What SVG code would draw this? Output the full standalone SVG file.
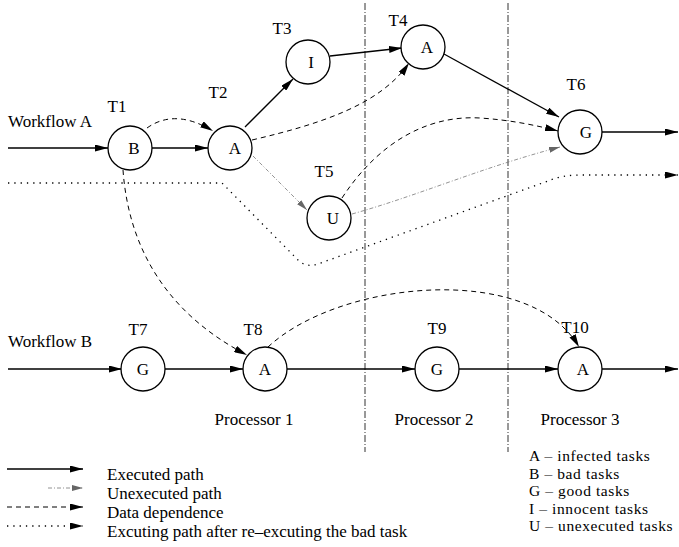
<svg xmlns="http://www.w3.org/2000/svg" width="679" height="547" viewBox="0 0 679 547">
  <defs>
    <marker id="arr" viewBox="0 0 13 7" refX="13" refY="3.5" markerWidth="13" markerHeight="7" markerUnits="userSpaceOnUse" orient="auto">
      <path d="M0,0 L13,3.5 L0,7 z" fill="#000"/>
    </marker>
    <marker id="arrGray" viewBox="0 0 13 7" refX="13" refY="3.5" markerWidth="11" markerHeight="6" markerUnits="userSpaceOnUse" orient="auto">
      <path d="M0,0 L13,3.5 L0,7 z" fill="#666"/>
    </marker>
  </defs>
  <style>
    text { font-family: 'Liberation Serif', 'DejaVu Serif', 'Times New Roman', serif; font-size: 17px; fill: #000; }
    .mid { text-anchor: middle; }
    .key { font-size: 15.5px; letter-spacing: 0.6px; }
    .node circle { fill: #fff; stroke: #000; stroke-width: 1.3; }
    .exec { fill: none; stroke: #000; stroke-width: 1.3; }
    .dep { fill: none; stroke: #000; stroke-width: 1; stroke-dasharray: 5 4; }
    .unexec { fill: none; stroke: #777; stroke-width: 0.8; stroke-dasharray: 4 2 1 2; }
    .redo { fill: none; stroke: #000; stroke-width: 1.3; stroke-dasharray: 1.3 5; }
    .sep { fill: none; stroke: #333; stroke-width: 1; stroke-dasharray: 7 2 1 2; }
  </style>
  <rect width="679" height="547" fill="#fff"/>

  <!-- processor separators -->
  <g id="separators">
    <line class="sep" x1="365" y1="3" x2="365" y2="452"/>
    <line class="sep" x1="508" y1="3" x2="508" y2="452"/>
  </g>

  <!-- connectors -->
  <g id="connectors">
    <!-- workflow A, executed -->
    <line class="exec" x1="8" y1="148" x2="108" y2="148" marker-end="url(#arr)"/>
    <line class="exec" x1="152" y1="148" x2="208" y2="148" marker-end="url(#arr)"/>
    <line class="exec" x1="245" y1="127" x2="293" y2="79" marker-end="url(#arr)"/>
    <line class="exec" x1="330" y1="56" x2="402" y2="48" marker-end="url(#arr)"/>
    <line class="exec" x1="444" y1="54" x2="559" y2="117" marker-end="url(#arr)"/>
    <line class="exec" x1="602" y1="132" x2="678" y2="132" marker-end="url(#arr)"/>
    <!-- workflow A, data dependence -->
    <path class="dep" d="M147,128 Q175,108 213,131" marker-end="url(#arr)"/>
    <path class="dep" d="M252,140 C320,124 380,105 409,63" marker-end="url(#arr)"/>
    <path class="dep" d="M342,198 C380,140 430,115 480,118 C510,120 535,125 558,131" marker-end="url(#arr)"/>
    <path class="dep" d="M123,170 C128,240 160,310 247,355" marker-end="url(#arr)"/>
    <!-- workflow A, unexecuted -->
    <line class="unexec" x1="253" y1="156" x2="307" y2="210" marker-end="url(#arrGray)"/>
    <path class="unexec" d="M352,214 C420,195 480,168 560,147" marker-end="url(#arrGray)"/>
    <!-- path after re-executing the bad task -->
    <path class="redo" d="M8,183 H222 L298,260 Q306,268 318,264 L548,181 Q562,175 580,175 H678" marker-end="url(#arr)"/>
    <!-- workflow B, executed -->
    <line class="exec" x1="8" y1="369" x2="122" y2="369" marker-end="url(#arr)"/>
    <line class="exec" x1="165" y1="369" x2="243" y2="369" marker-end="url(#arr)"/>
    <line class="exec" x1="287" y1="369" x2="415" y2="369" marker-end="url(#arr)"/>
    <line class="exec" x1="459" y1="369" x2="558" y2="369" marker-end="url(#arr)"/>
    <line class="exec" x1="602" y1="369" x2="678" y2="369" marker-end="url(#arr)"/>
    <!-- workflow B, data dependence -->
    <path class="dep" d="M268,347 C340,280 530,262 579,347" marker-end="url(#arr)"/>
  </g>

  <!-- nodes -->
  <g id="T1" class="node"><circle cx="130" cy="148" r="22"/><text class="mid" x="134" y="154">B</text><text class="mid" x="117" y="112">T1</text></g>
  <g id="T2" class="node"><circle cx="230" cy="148" r="22"/><text class="mid" x="235" y="154">A</text><text class="mid" x="218" y="98">T2</text></g>
  <g id="T3" class="node"><circle cx="308" cy="62" r="22"/><text class="mid" x="311" y="68">I</text><text class="mid" x="282" y="34">T3</text></g>
  <g id="T4" class="node"><circle cx="423" cy="47" r="22"/><text class="mid" x="427" y="53">A</text><text class="mid" x="398" y="26">T4</text></g>
  <g id="T5" class="node"><circle cx="329" cy="218" r="22"/><text class="mid" x="333" y="224">U</text><text class="mid" x="324" y="177">T5</text></g>
  <g id="T6" class="node"><circle cx="580" cy="132" r="22"/><text class="mid" x="586" y="138">G</text><text class="mid" x="576" y="90">T6</text></g>
  <g id="T7" class="node"><circle cx="143" cy="369" r="22"/><text class="mid" x="143" y="375">G</text><text class="mid" x="138" y="335">T7</text></g>
  <g id="T8" class="node"><circle cx="265" cy="369" r="22"/><text class="mid" x="265" y="375">A</text><text class="mid" x="253" y="335">T8</text></g>
  <g id="T9" class="node"><circle cx="437" cy="369" r="22"/><text class="mid" x="437" y="375">G</text><text class="mid" x="437" y="334">T9</text></g>
  <g id="T10" class="node"><circle cx="580" cy="369" r="22"/><text class="mid" x="583" y="375">A</text><text class="mid" x="575" y="333">T10</text></g>

  <!-- labels -->
  <g id="labels">
    <text x="8" y="127">Workflow A</text>
    <text x="8" y="347">Workflow B</text>
    <text class="mid" x="254" y="425">Processor 1</text>
    <text class="mid" x="434" y="425">Processor 2</text>
    <text class="mid" x="580" y="425">Processor 3</text>
  </g>

  <!-- legend -->
  <g id="legend">
    <line class="exec" x1="7" y1="469" x2="83" y2="469" marker-end="url(#arr)"/>
    <line class="unexec" x1="48" y1="488" x2="83" y2="488" marker-end="url(#arrGray)"/>
    <line class="dep" x1="7" y1="507" x2="83" y2="507" marker-end="url(#arr)"/>
    <line class="redo" x1="7" y1="526" x2="83" y2="526" marker-end="url(#arr)"/>
    <text x="107" y="480">Executed path</text>
    <text x="107" y="499">Unexecuted path</text>
    <text x="107" y="518">Data dependence</text>
    <text x="107" y="537">Excuting path after re–excuting the bad task</text>
    <text class="key" x="529" y="461">A – infected tasks</text>
    <text class="key" x="529" y="478.5">B – bad tasks</text>
    <text class="key" x="529" y="496">G – good tasks</text>
    <text class="key" x="529" y="513.5">I – innocent tasks</text>
    <text class="key" x="529" y="531">U – unexecuted tasks</text>
  </g>
</svg>
